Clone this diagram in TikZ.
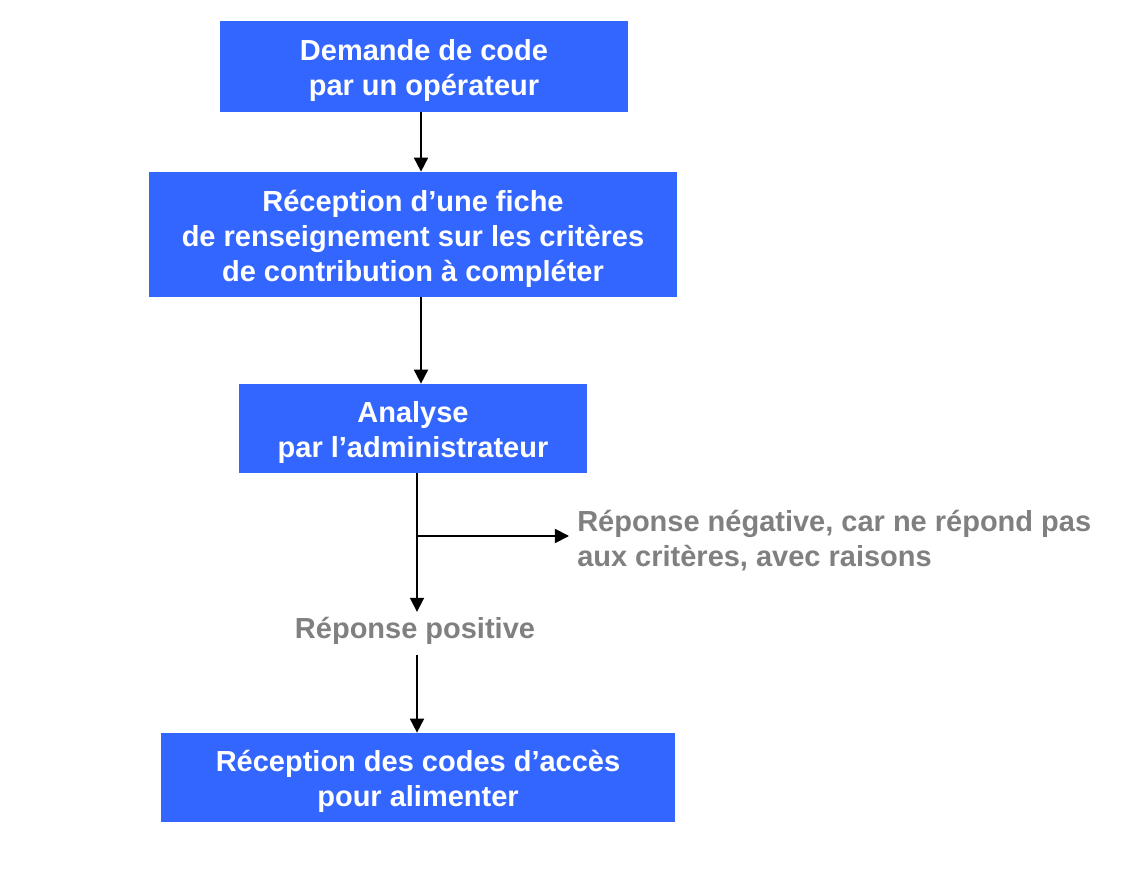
\documentclass[tikz,border=0pt]{standalone}
\usepackage{fontspec}
\setmainfont{Liberation Sans}
\usetikzlibrary{positioning,arrows.meta}

\definecolor{stepblue}{RGB}{51,102,255}
\definecolor{answergray}{RGB}{128,128,128}

\begin{document}
\begin{tikzpicture}[
    x=0.02cm, y=-0.02cm,
    stepbox/.style={fill=stepblue, inner sep=0pt},
    steptext/.style={text=white, align=center, inner sep=0pt, yshift=-2.3pt,
        font=\bfseries\fontsize{16.5}{20}\selectfont},
    answer/.style={text=answergray, inner sep=0pt,
        font=\bfseries\fontsize{16.5}{20}\selectfont},
    flow/.style={-{Triangle[length=8pt,width=8pt]}, line width=1pt}
]
\useasboundingbox (0,0) rectangle (1128,874);

% Steps
\node[stepbox, minimum width=8.16cm, minimum height=1.82cm,
    label={[steptext]center:{Demande de code\\par un opérateur}}] (demande) at (424,66.5) {};
\node[stepbox, minimum width=10.56cm, minimum height=2.5cm,
    label={[steptext]center:{Réception d’une fiche\\de renseignement sur les critères\\de contribution à compléter}}] (fiche) at (413,234.5) {};
\node[stepbox, minimum width=6.96cm, minimum height=1.78cm,
    label={[steptext]center:{Analyse\\par l’administrateur}}] (analyse) at (413,428.5) {};
\node[stepbox, minimum width=10.28cm, minimum height=1.78cm,
    label={[steptext]center:{Réception des codes d’accès\\pour alimenter}}] (codes) at (418,777.5) {};

% Answers
\node[answer, anchor=base, text height=14pt, text depth=8.9pt, inner ysep=0.7pt]
    (positive) at (415,638) {Réponse positive};
\node[answer, align=left, anchor=west, inner xsep=4.5pt] (negative) at (569,541)
    {Réponse négative, car ne répond pas\\aux critères, avec raisons};

% Arrows
\coordinate (axis) at (421,0);
\coordinate (stem) at (417,0);
\coordinate (fork) at (417,536);
\draw[flow] (demande.south -| axis) -- (fiche.north -| axis);
\draw[flow] (fiche.south -| axis) -- (analyse.north -| axis);
\draw[flow] (analyse.south -| stem) -- (positive.north -| stem);
\draw[flow] (fork) -- (negative.west |- fork);
\draw[flow] (positive.south -| stem) -- (codes.north -| stem);

\end{tikzpicture}
\end{document}
